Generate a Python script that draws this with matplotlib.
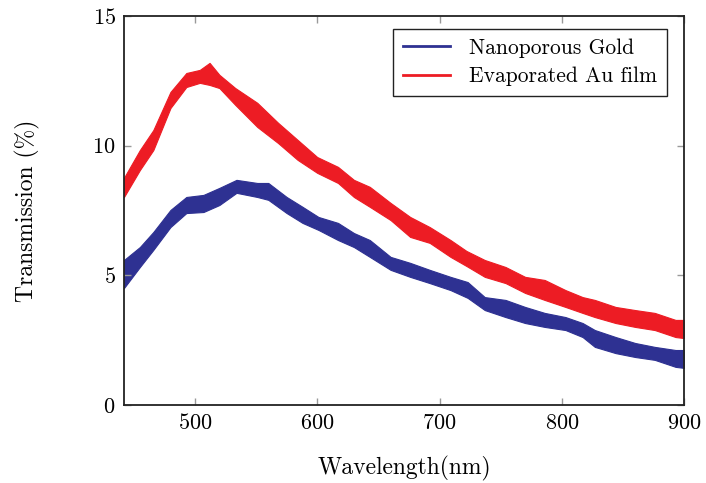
import numpy as np
import matplotlib
matplotlib.use("Agg")
import matplotlib.pyplot as plt

plt.rcParams['font.family'] = 'serif'
plt.rcParams['font.serif'] = ['cmr10', 'DejaVu Serif']
plt.rcParams['mathtext.fontset'] = 'cm'
plt.rcParams['axes.formatter.use_mathtext'] = True

# wavelength (nm) and the lower / upper edge of the noisy trace (%)
wl_gold = [442, 455, 466, 480, 493, 507, 520, 534, 551, 560, 575, 588, 601,
           617, 630, 643, 660, 676, 692, 709, 723, 737, 754, 770, 786, 803,
           817, 827, 844, 860, 876, 893, 900]
gold_lo = [4.51, 5.32, 5.98, 6.86, 7.40, 7.44, 7.71, 8.18, 8.02, 7.91, 7.40,
           7.02, 6.75, 6.36, 6.09, 5.71, 5.21, 4.94, 4.70, 4.43, 4.13, 3.66,
           3.39, 3.16, 3.01, 2.89, 2.62, 2.24, 2.00, 1.85, 1.74, 1.47, 1.43]
gold_hi = [5.59, 6.09, 6.67, 7.52, 8.02, 8.10, 8.37, 8.68, 8.56, 8.56, 8.02,
           7.64, 7.25, 7.02, 6.63, 6.36, 5.71, 5.48, 5.21, 4.94, 4.74, 4.16,
           4.05, 3.78, 3.55, 3.39, 3.16, 2.89, 2.62, 2.39, 2.24, 2.12, 2.12]

wl_au = [442, 455, 466, 480, 493, 504, 512, 520, 533, 551, 568, 584, 600,
         617, 630, 643, 660, 676, 692, 709, 722, 737, 754, 770, 786, 803,
         817, 827, 844, 860, 876, 893, 900]
au_lo = [8.02, 9.06, 9.83, 11.45, 12.26, 12.42, 12.34, 12.22, 11.57, 10.72,
         10.10, 9.45, 8.95, 8.56, 8.02, 7.64, 7.13, 6.48, 6.25, 5.71, 5.36,
         4.94, 4.70, 4.32, 4.05, 3.78, 3.55, 3.39, 3.16, 3.01, 2.89, 2.62, 2.58]
au_hi = [8.76, 9.83, 10.60, 12.07, 12.80, 12.92, 13.19, 12.73, 12.22, 11.65,
         10.88, 10.22, 9.56, 9.18, 8.68, 8.41, 7.79, 7.25, 6.86, 6.36, 5.94,
         5.59, 5.32, 4.94, 4.82, 4.43, 4.16, 4.05, 3.78, 3.66, 3.55, 3.28, 3.28]

blue = '#2e3192'
red = '#ed1c24'

fig = plt.figure(figsize=(7.06, 4.83), dpi=100)
ax = fig.add_axes([0.1756, 0.1615, 0.7934, 0.8055])

ax.fill_between(wl_gold, gold_lo, gold_hi, color=blue, lw=0.8, edgecolor=blue)
ax.fill_between(wl_au, au_lo, au_hi, color=red, lw=0.8, edgecolor=red)

ax.plot([], [], color=blue, lw=2, label='Nanoporous Gold')
ax.plot([], [], color=red, lw=2, label='Evaporated Au film')

ax.set_xlim(442, 900)
ax.set_ylim(0, 15)
ax.set_xticks([500, 600, 700, 800, 900])
ax.set_yticks([0, 5, 10, 15])
ax.tick_params(direction='in', length=5, width=1, color='#999999',
               top=True, right=True, labelsize=16, pad=6)
for s in ax.spines.values():
    s.set_linewidth(1.3)
    s.set_color('#222222')

ax.set_xlabel('Wavelength(nm)', fontsize=17, labelpad=16)
ax.set_ylabel('Transmission (%)', fontsize=17, labelpad=38)

leg = ax.legend(loc='upper right', bbox_to_anchor=(0.97, 0.967), fontsize=15.5,
                fancybox=False, edgecolor='#222222', framealpha=1,
                borderaxespad=0, handlelength=2.2, borderpad=0.45,
                labelspacing=0.4, handletextpad=0.9)
leg.get_frame().set_linewidth(1.0)

fig.savefig('out.png', dpi=100)
